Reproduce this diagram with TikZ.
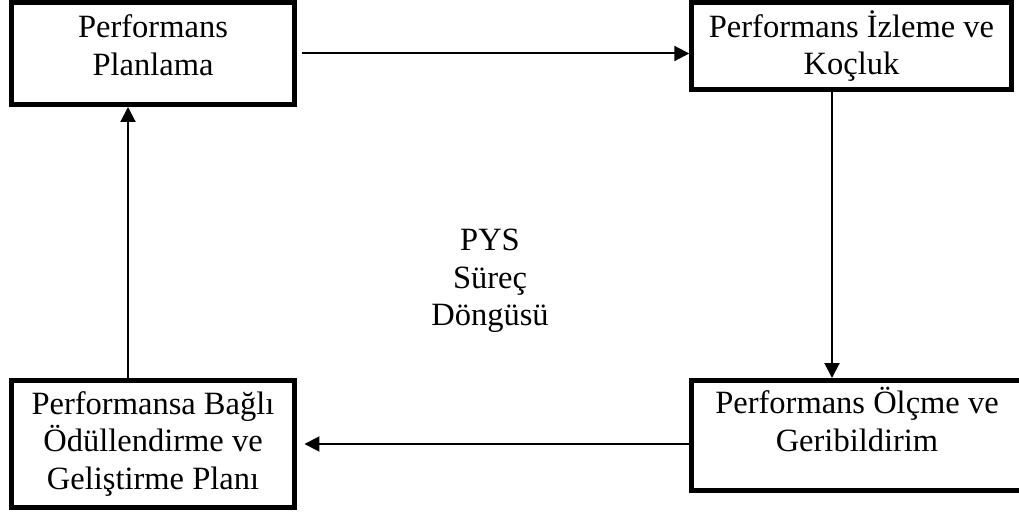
\documentclass[tikz,border=0pt]{standalone}
\usepackage{fontspec}
\setmainfont{Liberation Serif}
\usetikzlibrary{arrows.meta}

\tikzset{
  kutu/.style={draw, line width=0.1cm, align=center, inner sep=0pt},
  ok/.style={line width=0.04cm, -{Triangle[length=0.3cm,width=0.3cm]}}
}

\begin{document}
\begin{tikzpicture}[x=0.02cm, y=-0.02cm, font=\fontsize{18.5}{21.3}\selectfont]
  \useasboundingbox (0,0) rectangle (1019,513);
  \node[kutu, minimum width=5.66cm, minimum height=2.04cm, text depth=0.34cm] (plan) at (153,53.5) {Performans\\Planlama};
  \node[kutu, minimum width=6.39cm, minimum height=1.75cm] (izle) at (851.5,46.25) {Performans İzleme ve\\Koçluk};
  \node[kutu, minimum width=6.62cm, minimum height=2.2cm, text depth=0.65cm] (olc) at (857,435.5) {Performans Ölçme ve\\Geribildirim};
  \node[kutu, minimum width=5.66cm, minimum height=2.54cm] (odul) at (153,444) {Performansa Bağlı\\Ödüllendirme ve\\Geliştirme Planı};
  \node[align=center] (pys) at (490,281) {PYS\\Süreç\\Döngüsü};
  \draw[ok] ([xshift=0.1cm]plan.east) -- (plan.east -| izle.west);
  \draw[ok] ([xshift=-0.39cm]izle.south) -- ([xshift=-0.39cm]izle.south |- olc.north);
  \draw[ok] (olc.west |- odul.east) -- ([xshift=0.15cm]odul.east);
  \draw[ok] ([xshift=-0.5cm]odul.north) -- ([xshift=-0.5cm]odul.north |- plan.south);
\end{tikzpicture}
\end{document}
